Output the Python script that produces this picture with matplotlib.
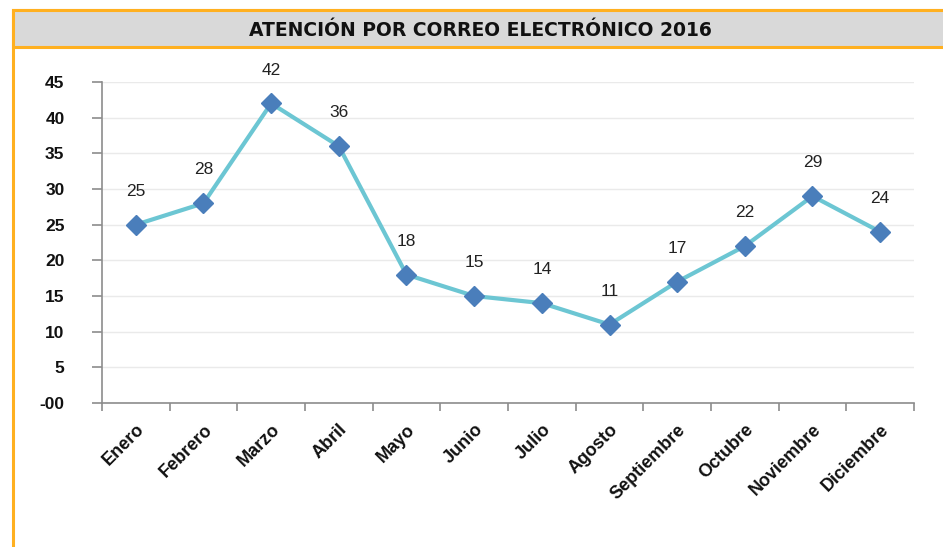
import matplotlib
matplotlib.use('Agg')
import matplotlib.pyplot as plt
from matplotlib.patches import Rectangle

# 資料
meses = ['Enero', 'Febrero', 'Marzo', 'Abril', 'Mayo', 'Junio', 'Julio',
         'Agosto', 'Septiembre', 'Octubre', 'Noviembre', 'Diciembre']
correos = [25, 28, 42, 36, 18, 15, 14, 11, 17, 22, 29, 24]
y_ticks = [0, 5, 10, 15, 20, 25, 30, 35, 40, 45]
y_labels = ['-00', '5', '10', '15', '20', '25', '30', '35', '40', '45']

W, H = 943, 547
fig = plt.figure(figsize=(W / 100, H / 100), dpi=100)
fig.patch.set_facecolor('white')

orange = '#FFB020'
# 外框與標題列
fig.patches.append(Rectangle((13 / W, -0.05), 1.2, 1 - 10 / H + 0.05,
                             transform=fig.transFigure, facecolor='white',
                             edgecolor=orange, linewidth=2.2, zorder=-2))
fig.patches.append(Rectangle((13 / W, 1 - 47 / H), 1.2, 37 / H,
                             transform=fig.transFigure, facecolor='#D9D9D9',
                             edgecolor=orange, linewidth=2.2, zorder=-1))
fig.text(480 / W, 1 - 30 / H, 'ATENCIÓN POR CORREO ELECTRÓNICO 2016',
         ha='center', va='center', fontsize=13.5, fontweight='bold',
         family='DejaVu Sans', color='#111111')

ax = fig.add_axes([102 / W, 144 / H, 812 / W, 321 / H])
ax.set_facecolor('none')

x = list(range(len(meses)))
ax.plot(x, correos, color='#6CC6D3', linewidth=3, zorder=3)
ax.plot(x, correos, linestyle='none', marker='D', markersize=10.5,
        color='#4A7EBB', zorder=4)

for xi, v in zip(x, correos):
    ax.annotate(str(v), (xi, v), xytext=(0, 24), textcoords='offset points',
                ha='center', va='center', fontsize=12.5, color='#222222',
                family='Liberation Sans')

ax.set_xlim(-0.5, len(meses) - 0.5)
ax.set_ylim(0, 45)
ax.set_yticks(y_ticks)
ax.set_yticklabels(y_labels, fontsize=12.5, fontweight='bold',
                   family='Liberation Sans', color='#111111')
ax.yaxis.grid(True, color='#EAEAEA', linewidth=1)
ax.set_axisbelow(True)

ax.set_xticks([i - 0.5 for i in range(len(meses) + 1)])
ax.set_xticklabels([])
ax.set_xticks(x, minor=True)
ax.set_xticklabels(meses, minor=True, rotation=45, ha='right', va='top',
                   rotation_mode='anchor', fontsize=13, fontweight='bold',
                   family='Liberation Sans', color='#111111')
ax.tick_params(axis='x', which='major', length=6, color='#8C8C8C', width=1.2)
ax.tick_params(axis='x', which='minor', length=0, pad=13)
ax.tick_params(axis='y', length=7, color='#8C8C8C', width=1.2, pad=20)

for s in ['top', 'right']:
    ax.spines[s].set_visible(False)
for s in ['left', 'bottom']:
    ax.spines[s].set_color('#8C8C8C')
    ax.spines[s].set_linewidth(1.2)

fig.savefig('out.png', dpi=100)
